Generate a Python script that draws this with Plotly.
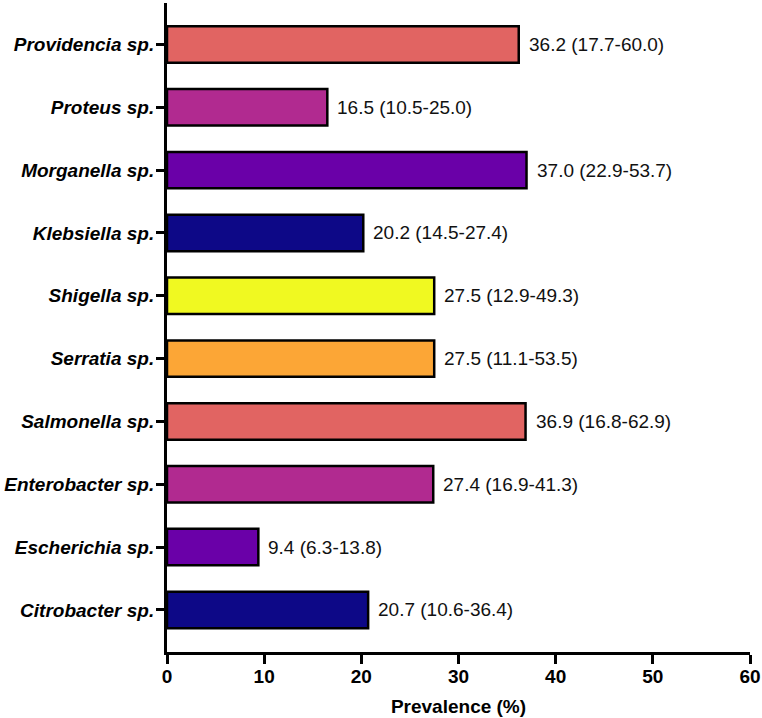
import plotly.graph_objects as go

categories = ["Providencia sp.", "Proteus sp.", "Morganella sp.", "Klebsiella sp.",
              "Shigella sp.", "Serratia sp.", "Salmonella sp.", "Enterobacter sp.",
              "Escherichia sp.", "Citrobacter sp."]
prevalence = [36.2, 16.5, 37.0, 20.2, 27.5, 27.5, 36.9, 27.4, 9.4, 20.7]
ci_low = [17.7, 10.5, 22.9, 14.5, 12.9, 11.1, 16.8, 16.9, 6.3, 10.6]
ci_high = [60.0, 25.0, 53.7, 27.4, 49.3, 53.5, 62.9, 41.3, 13.8, 36.4]
colors = ["#e16462", "#b12a90", "#6a00a8", "#0d0887", "#f0f921",
          "#fca636", "#e16462", "#b12a90", "#6a00a8", "#0d0887"]
x_ticks = [0, 10, 20, 30, 40, 50, 60]

labels = [f"{v:.1f} ({lo:.1f}-{hi:.1f})" for v, lo, hi in zip(prevalence, ci_low, ci_high)]

FONT = "Liberation Sans, Arial, Helvetica, sans-serif"

fig = go.Figure()
fig.add_trace(go.Bar(
    x=prevalence, y=categories, orientation="h", width=0.58,
    marker=dict(color=colors, line=dict(color="#000000", width=2.5)),
    hoverinfo="skip",
))

for v, c, t in zip(prevalence, categories, labels):
    fig.add_annotation(x=v, y=c, text=t, showarrow=False, xanchor="left",
                       yanchor="middle", xshift=8,
                       font=dict(family=FONT, size=19, color="#111111"))

fig.update_layout(
    width=762, height=718,
    margin=dict(l=167, r=12, t=3, b=66),
    paper_bgcolor="white", plot_bgcolor="white",
    showlegend=False,
    bargap=0.4,
)
fig.update_xaxes(
    range=[0, 60], tickvals=x_ticks, showgrid=False, zeroline=False,
    automargin=False,
    showline=True, linecolor="#000000", linewidth=3,
    ticks="outside", ticklen=9, tickwidth=3, tickcolor="#000000",
    ticklabelstandoff=-4,
    tickfont=dict(family=FONT, size=19, color="#000000", weight="bold"),
    title=dict(text="Prevalence (%)", standoff=14,
               font=dict(family=FONT, size=19, color="#000000", weight="bold")),
)
fig.update_yaxes(
    categoryorder="array", categoryarray=categories,
    range=[9.67, -0.66], showgrid=False, zeroline=False,
    automargin=False,
    showline=True, linecolor="#000000", linewidth=3,
    ticks="outside", ticklen=8, tickwidth=2.5, tickcolor="#000000",
    ticklabelstandoff=-2,
    tickfont=dict(family=FONT, size=19, color="#000000", weight="bold", style="italic"),
)

fig.write_html(
    "out.html",
    config={"displayModeBar": False},
    post_script="document.body.style.margin='0';document.body.style.overflow='hidden';",
)
